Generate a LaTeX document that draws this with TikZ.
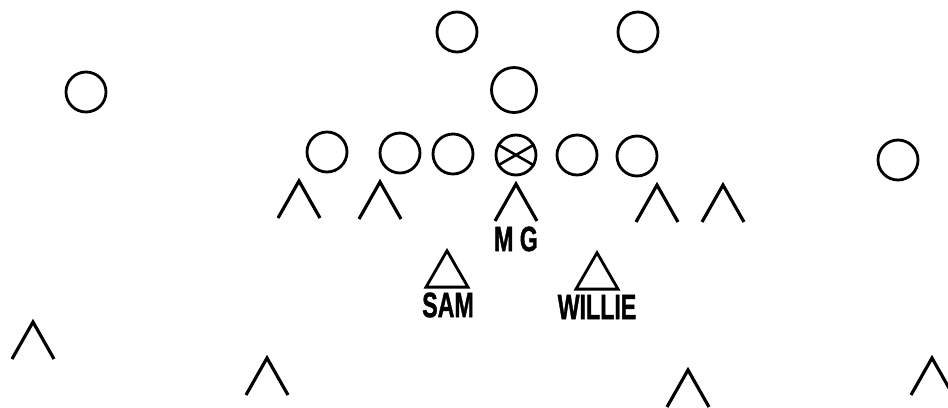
\documentclass[tikz,border=0pt]{standalone}
\usepackage{fontspec}
\setmainfont{Liberation Sans}
\newfontfamily\tagfont[BoldFeatures={FakeBold=1.5}]{Liberation Sans}
\usetikzlibrary{shapes.geometric,positioning}

\begin{document}
\begin{tikzpicture}[x=0.02cm, y=-0.02cm,
  player/.style={draw, circle, line width=1.6pt, minimum size=0.8cm, inner sep=0pt},
  backer/.style={draw, regular polygon, regular polygon sides=3, line width=1.6pt, minimum size=0.97cm, inner sep=0pt},
  tag/.style={font=\tagfont\bfseries\fontsize{20}{22}\selectfont, inner sep=0pt, xscale=0.66},
  caret/.pic={\draw[line width=1.8pt] (-21,37) -- (0,0) -- (21,37);}
]
\clip (0,0) rectangle (948,407);

% offense
\node[player] (hbl) at (457,32) {};
\node[player] (hbr) at (638,32) {};
\node[player, minimum size=0.9cm] (qb) at (514,90) {};
\node[player] (sel) at (86,92) {};
\node[player] (te) at (327,152) {};
\node[player] (lt) at (400,153) {};
\node[player] (lg) at (453,154) {};
\node[player] (ctr) at (516,155) {};
\draw[line width=1.5pt] (ctr.150) -- (ctr.-30) (ctr.30) -- (ctr.210);
\node[player] (rg) at (577,155) {};
\node[player] (rt) at (637,156) {};
\node[player] (fl) at (898,160) {};

% defense
\pic at (299,181) {caret};
\pic at (380,182) {caret};
\pic at (516,184) {caret};
\pic at (657,185) {caret};
\pic at (723,185) {caret};
\node[tag] (mg) at (516,239) {M G};

\node[backer] (sam) at (447,275) {};
\node[tag] (samlbl) at (448,305) {SAM};
\node[backer] (willie) at (597,277) {};
\node[tag] (willielbl) at (597,307) {WILLIE};

\pic at (33,322) {caret};
\pic at (267,358) {caret};
\pic at (688,370) {caret};
\pic at (932,358) {caret};
\end{tikzpicture}
\end{document}
